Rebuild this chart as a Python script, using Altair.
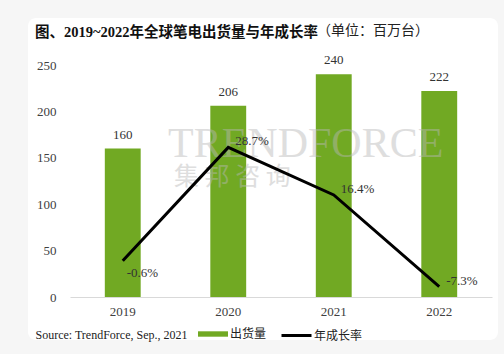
import altair as alt
import pandas as pd

years = ["2019", "2020", "2021", "2022"]
shipments = [160, 206, 240, 222]
growth = [-0.6, 28.7, 16.4, -7.3]
bar_name = "出货量"
line_name = "年成长率"
title_main = "图、2019~2022年全球笔电出货量与年成长率"
title_unit = "（单位：百万台）"
source_text = "Source: TrendForce, Sep., 2021"
wm_en = "TRENDFORCE"
wm_cn = "集 邦 咨 询"

df = pd.DataFrame({
    "year": years,
    "shipments": shipments,
    "growth": growth,
    "bar_series": bar_name,
    "line_series": line_name,
})

FONT = "Liberation Serif, Noto Sans CJK SC"
GREEN = "#71a923"
TXT = "#333333"

x_enc = alt.X(
    "year:N",
    scale=alt.Scale(paddingInner=0.66, paddingOuter=0.33),
    axis=alt.Axis(
        title=source_text, titleX=-35, titleY=37, titleAlign="left",
        titleBaseline="middle", titleFont=FONT, titleFontSize=12,
        titleFontWeight="normal", titleColor="#222222",
        labelAngle=0, labelFont=FONT, labelFontSize=13, labelColor="#404040",
        labelPadding=8, ticks=False, domainColor="#d9d9d9", domainWidth=1,
        zindex=1,
    ),
)

bars = alt.Chart(df).mark_bar().encode(
    x=x_enc,
    y=alt.Y(
        "shipments:Q",
        scale=alt.Scale(domain=[0, 250], nice=False),
        axis=alt.Axis(
            values=[0, 50, 100, 150, 200, 250], title=None, grid=False,
            domain=False, ticks=False, labelPadding=14, labelFont=FONT,
            labelFontSize=13, labelColor="#404040", zindex=1,
        ),
    ),
    color=alt.Color(
        "bar_series:N",
        scale=alt.Scale(range=[GREEN]),
        legend=alt.Legend(
            title=None, orient="none", legendX=128, legendY=254,
            direction="horizontal", symbolType="M-1,-0.18H1V0.18H-1Z",
            symbolSize=900, symbolStrokeWidth=0, symbolOpacity=1,
            labelFont=FONT, labelFontSize=12, labelColor="#222222",
            labelOffset=2, padding=0,
        ),
    ),
)

bar_text = alt.Chart(df).mark_text(
    dy=-7, baseline="bottom", font=FONT, fontSize=13, color=TXT
).encode(
    x=alt.X("year:N"),
    y=alt.Y("shipments:Q", scale=alt.Scale(domain=[0, 250], nice=False), axis=None),
    text=alt.Text("shipments:Q"),
)

gy = alt.Y("growth:Q", scale=alt.Scale(domain=[-10, 50], nice=False), axis=None)

line = alt.Chart(df).mark_line(strokeWidth=3).encode(
    x=alt.X("year:N"),
    y=gy,
    stroke=alt.Stroke(
        "line_series:N",
        scale=alt.Scale(range=["#000000"]),
        legend=alt.Legend(
            title=None, orient="none", legendX=210, legendY=254,
            direction="horizontal", symbolType="stroke", symbolSize=900,
            symbolStrokeWidth=3, labelFont=FONT, labelFontSize=12,
            labelColor="#222222", labelOffset=1, padding=0,
        ),
    ),
)

lbl = "(datum.growth < 0 ? '-' : '') + format(abs(datum.growth), '.1f') + '%'"
line_text_a = alt.Chart(df).transform_filter(
    "datum.year != '2019'"
).transform_calculate(lbl=lbl).mark_text(
    align="left", dx=7, dy=-6, font=FONT, fontSize=13, color=TXT
).encode(x=alt.X("year:N"), y=gy, text="lbl:N")

line_text_b = alt.Chart(df).transform_filter(
    "datum.year == '2019'"
).transform_calculate(lbl=lbl).mark_text(
    align="left", dx=4, dy=12, font=FONT, fontSize=13, color=TXT
).encode(x=alt.X("year:N"), y=gy, text="lbl:N")

unit_text = alt.Chart(pd.DataFrame({"t": [title_unit]})).mark_text(
    align="left", baseline="middle", font=FONT, fontSize=14, color="#222222"
).encode(x=alt.value(247), y=alt.value(-34), text="t:N")

wm1 = alt.Chart(pd.DataFrame({"t": [wm_en]})).mark_text(
    align="left", baseline="alphabetic", font="Liberation Serif", fontSize=42,
    color="#b8b8b8", opacity=0.45
).encode(x=alt.value(98), y=alt.value(92), text="t:N")

wm2 = alt.Chart(pd.DataFrame({"t": [wm_cn]})).mark_text(
    align="left", baseline="middle", font="Noto Sans CJK SC", fontSize=25,
    color="#b8b8b8", opacity=0.45
).encode(x=alt.value(104), y=alt.value(112), text="t:N")

panel = alt.Chart(pd.DataFrame({"t": [0]})).mark_rect(
    color="white", cornerRadius=8
).encode(x=alt.value(-42), x2=alt.value(428), y=alt.value(-47), y2=alt.value(275))

chart = alt.layer(
    panel, bars, wm1, wm2, bar_text, line, line_text_a, line_text_b, unit_text
).resolve_scale(
    y="independent", color="independent", stroke="independent"
).properties(
    width=422, height=232,
    padding={"left": 70, "top": 65, "right": 12, "bottom": 57},
    autosize=alt.AutoSizeParams(type="none"),
    background="#f6f6f6",
    title=alt.TitleParams(
        text=title_main, anchor="start", dx=7, offset=0, dy=36,
        baseline="bottom", font=FONT, fontSize=14.5, fontWeight="bold",
        color="#111111",
    ),
).configure_view(stroke=None)

chart.save("out.html", embed_options={"renderer": "svg", "actions": False})
